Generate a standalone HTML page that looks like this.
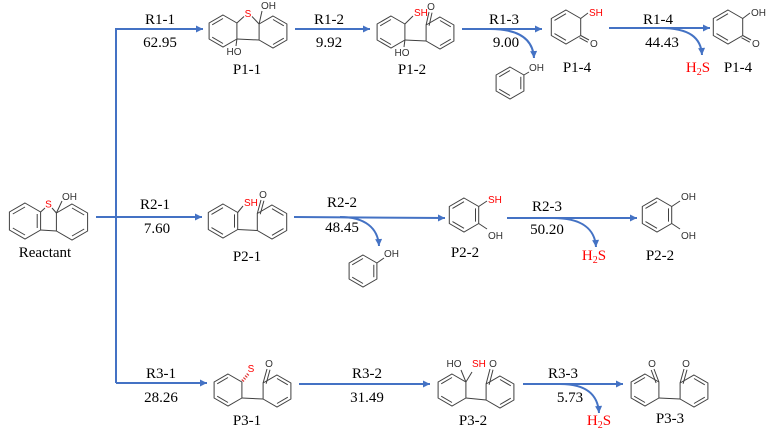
<!DOCTYPE html>
<html><head><meta charset="utf-8">
<style>
html,body{margin:0;padding:0;background:#fff;}
svg{display:block;}
.b{stroke:#4472C4;stroke-width:2;fill:none;}
.m{stroke:#404040;stroke-width:1;fill:none;}
.t{font-family:"Liberation Serif",serif;font-size:15px;fill:#000;text-anchor:middle;}
.a{font-family:"Liberation Sans",sans-serif;font-size:10px;fill:#333;}
.r{fill:#f00;}
</style></head>
<body>
<svg width="769" height="433" viewBox="0 0 769 433" xmlns="http://www.w3.org/2000/svg">
<defs>
<marker id="ah" viewBox="0 0 10 10" refX="10" refY="5" markerWidth="8" markerHeight="7" orient="auto" markerUnits="userSpaceOnUse">
<path d="M0,0 L10,5 L0,10 z" fill="#4472C4"/>
</marker>
</defs>

<!-- ===== Blue arrows ===== -->
<path class="b" d="M116,383 L116,29 L203,29" marker-end="url(#ah)"/>
<path class="b" d="M116,383 L207,383" marker-end="url(#ah)"/>
<path class="b" d="M96,217 L202,217" marker-end="url(#ah)"/>

<path class="b" d="M295,29 L370,29" marker-end="url(#ah)"/>
<path class="b" d="M462,29 L542,29" marker-end="url(#ah)"/>
<path class="b" d="M490,29 C520,29 533,40 534,58" marker-end="url(#ah)"/>
<path class="b" d="M609,28 L710,28" marker-end="url(#ah)"/>
<path class="b" d="M660,28 C690,28 701,38 702,55" marker-end="url(#ah)"/>

<path class="b" d="M294,217 L445,218" marker-end="url(#ah)"/>
<path class="b" d="M340,217 C365,217 378,228 379,246" marker-end="url(#ah)"/>
<path class="b" d="M507,218 L637,218" marker-end="url(#ah)"/>
<path class="b" d="M553,218 C583,218 595,230 596,247" marker-end="url(#ah)"/>

<path class="b" d="M299,384 L430,384" marker-end="url(#ah)"/>
<path class="b" d="M523,384 L623,384" marker-end="url(#ah)"/>
<path class="b" d="M560,384 C588,384 598,396 599,413" marker-end="url(#ah)"/>

<!-- ===== Reaction labels ===== -->
<text class="t" x="160" y="24">R1-1</text><text class="t" x="160" y="47">62.95</text>
<text class="t" x="329" y="24">R1-2</text><text class="t" x="329" y="47">9.92</text>
<text class="t" x="504" y="24">R1-3</text><text class="t" x="506" y="47">9.00</text>
<text class="t" x="658" y="24">R1-4</text><text class="t" x="662" y="47">44.43</text>

<text class="t" x="155" y="209">R2-1</text><text class="t" x="157" y="233">7.60</text>
<text class="t" x="342" y="207">R2-2</text><text class="t" x="342" y="232">48.45</text>
<text class="t" x="547" y="211">R2-3</text><text class="t" x="547" y="234">50.20</text>

<text class="t" x="161" y="378">R3-1</text><text class="t" x="161" y="402">28.26</text>
<text class="t" x="367" y="378">R3-2</text><text class="t" x="367" y="402">31.49</text>
<text class="t" x="563" y="378">R3-3</text><text class="t" x="570" y="402">5.73</text>

<!-- ===== Product labels ===== -->
<text class="t" x="247" y="74">P1-1</text>
<text class="t" x="412" y="74">P1-2</text>
<text class="t" x="577" y="72">P1-4</text>
<text class="t r" x="698" y="72">H<tspan font-size="10" dy="3">2</tspan><tspan dy="-3">S</tspan></text>
<text class="t" x="738" y="72">P1-4</text>

<text class="t" x="45" y="257">Reactant</text>
<text class="t" x="247" y="261">P2-1</text>
<text class="t" x="465" y="257">P2-2</text>
<text class="t r" x="594" y="260">H<tspan font-size="10" dy="3">2</tspan><tspan dy="-3">S</tspan></text>
<text class="t" x="660" y="260">P2-2</text>

<text class="t" x="247" y="425">P3-1</text>
<text class="t" x="473" y="425">P3-2</text>
<text class="t r" x="599" y="425">H<tspan font-size="10" dy="3">2</tspan><tspan dy="-3">S</tspan></text>
<text class="t" x="670" y="423">P3-3</text>

<!-- ===== Reactant ===== -->
<g class="m" transform="translate(25,221)">
<polygon points="0,-18 15.6,-9 15.6,9 0,18 -15.6,9 -15.6,-9"/>
<line x1="-12.2" y1="-7" x2="0" y2="-14"/><line x1="12.2" y1="-7" x2="12.2" y2="7"/><line x1="0" y1="14" x2="-12.2" y2="7"/>
</g>
<g class="m" transform="translate(72,222)">
<polygon points="0,-18 15.6,-9 15.6,9 0,18 -15.6,9 -15.6,-9"/>
<line x1="0" y1="-14" x2="12.2" y2="-7"/><line x1="12.2" y1="7" x2="0" y2="14"/>
</g>
<g class="m">
<line x1="40.6" y1="212" x2="45" y2="208"/><line x1="52" y1="208" x2="56.4" y2="213"/>
<line x1="40.6" y1="230" x2="56.4" y2="231"/>
<line x1="56.4" y1="213" x2="62" y2="201"/>
</g>
<text class="a r" x="48.5" y="207.5" text-anchor="middle">S</text>
<text class="a" x="62" y="200">OH</text>

<!-- ===== P1-1 ===== -->
<g class="m" transform="translate(223,31)">
<polygon points="0,-16 13.9,-8 13.9,8 0,16 -13.9,8 -13.9,-8"/>
<line x1="-10.8" y1="-6.2" x2="0" y2="-12.5"/><line x1="-10.8" y1="6.2" x2="0" y2="12.5"/>
</g>
<g class="m" transform="translate(273,32)">
<polygon points="0,-16 13.9,-8 13.9,8 0,16 -13.9,8 -13.9,-8"/>
<line x1="0" y1="-12.5" x2="10.8" y2="-6.2"/><line x1="10.8" y1="6.2" x2="0" y2="12.5"/>
</g>
<g class="m">
<line x1="236.9" y1="23" x2="244" y2="16.5"/><line x1="252" y1="16.5" x2="259.1" y2="24"/>
<line x1="236.9" y1="39" x2="259.1" y2="40"/>
<line x1="259.1" y1="24" x2="262" y2="11"/>
<line x1="236.9" y1="39" x2="236" y2="46"/>
</g>
<text class="a r" x="248" y="17" text-anchor="middle">S</text>
<text class="a" x="261" y="9">OH</text>
<text class="a" x="234" y="55" text-anchor="middle">HO</text>

<!-- ===== P1-2 ===== -->
<g class="m" transform="translate(391,32)">
<polygon points="0,-16 13.9,-8 13.9,8 0,16 -13.9,8 -13.9,-8"/>
<line x1="-10.8" y1="-6.2" x2="0" y2="-12.5"/><line x1="-10.8" y1="6.2" x2="0" y2="12.5"/>
</g>
<g class="m" transform="translate(440,33)">
<polygon points="0,-16 13.9,-8 13.9,8 0,16 -13.9,8 -13.9,-8"/>
<line x1="0" y1="-12.5" x2="10.8" y2="-6.2"/><line x1="10.8" y1="6.2" x2="0" y2="12.5"/>
</g>
<g class="m">
<line x1="404.9" y1="40" x2="426.1" y2="41"/>
<line x1="404.9" y1="24" x2="413" y2="16"/>
<line x1="426.1" y1="25" x2="429" y2="12"/><line x1="429.1" y1="25.7" x2="432" y2="12.7"/>
<line x1="404.9" y1="40" x2="404" y2="47"/>
</g>
<text class="a r" x="414" y="16">SH</text>
<text class="a" x="431" y="10" text-anchor="middle">O</text>
<text class="a" x="402" y="56" text-anchor="middle">HO</text>

<!-- ===== Phenol (top) ===== -->
<g class="m" transform="translate(510,83)">
<polygon points="0,-16 13.9,-8 13.9,8 0,16 -13.9,8 -13.9,-8"/>
<line x1="-10.8" y1="-6.2" x2="0" y2="-12.5"/><line x1="10.8" y1="-6.2" x2="10.8" y2="6.2"/><line x1="0" y1="12.5" x2="-10.8" y2="6.2"/>
</g>
<line class="m" x1="523.9" y1="75" x2="529" y2="72"/>
<text class="a" x="529" y="71">OH</text>

<!-- ===== P1-4 (left) ===== -->
<g class="m" transform="translate(566,27)">
<polygon points="0,-17 14.7,-8.5 14.7,8.5 0,17 -14.7,8.5 -14.7,-8.5"/>
<line x1="-11.5" y1="-6.6" x2="0" y2="-13.3"/><line x1="-11.5" y1="6.6" x2="0" y2="13.3"/>
</g>
<g class="m">
<line x1="580.7" y1="18.5" x2="588" y2="13"/>
<line x1="580.7" y1="35.5" x2="589" y2="40"/><line x1="579.5" y1="37.7" x2="587.8" y2="42.2"/>
</g>
<text class="a r" x="589" y="16">SH</text>
<text class="a" x="590" y="47">O</text>

<!-- ===== P1-4 (right) ===== -->
<g class="m" transform="translate(728,27)">
<polygon points="0,-17 14.7,-8.5 14.7,8.5 0,17 -14.7,8.5 -14.7,-8.5"/>
<line x1="-11.5" y1="-6.6" x2="0" y2="-13.3"/><line x1="-11.5" y1="6.6" x2="0" y2="13.3"/>
</g>
<g class="m">
<line x1="742.7" y1="18.5" x2="750" y2="13"/>
<line x1="742.7" y1="35.5" x2="751" y2="40"/><line x1="741.5" y1="37.7" x2="749.8" y2="42.2"/>
</g>
<text class="a" x="751" y="16">OH</text>
<text class="a" x="752" y="47">O</text>

<!-- ===== P2-1 ===== -->
<g class="m" transform="translate(223,221)">
<polygon points="0,-17 14.7,-8.5 14.7,8.5 0,17 -14.7,8.5 -14.7,-8.5"/>
<line x1="-11.5" y1="-6.6" x2="0" y2="-13.3"/><line x1="11.5" y1="-6.6" x2="11.5" y2="6.6"/><line x1="0" y1="13.3" x2="-11.5" y2="6.6"/>
</g>
<g class="m" transform="translate(272,222)">
<polygon points="0,-17 14.7,-8.5 14.7,8.5 0,17 -14.7,8.5 -14.7,-8.5"/>
<line x1="0" y1="-13.3" x2="11.5" y2="-6.6"/><line x1="11.5" y1="6.6" x2="0" y2="13.3"/>
</g>
<g class="m">
<line x1="237.7" y1="229.5" x2="257.3" y2="230.5"/>
<line x1="237.7" y1="212.5" x2="243" y2="206"/>
<line x1="257.3" y1="213.5" x2="261" y2="200"/><line x1="260.2" y1="214.3" x2="263.9" y2="200.8"/>
</g>
<text class="a r" x="244" y="206">SH</text>
<text class="a" x="263" y="198" text-anchor="middle">O</text>

<!-- ===== Phenol (middle) ===== -->
<g class="m" transform="translate(363,271)">
<polygon points="0,-16 13.9,-8 13.9,8 0,16 -13.9,8 -13.9,-8"/>
<line x1="-10.8" y1="-6.2" x2="0" y2="-12.5"/><line x1="10.8" y1="-6.2" x2="10.8" y2="6.2"/><line x1="0" y1="12.5" x2="-10.8" y2="6.2"/>
</g>
<line class="m" x1="376.9" y1="263" x2="384" y2="258"/>
<text class="a" x="384" y="257">OH</text>

<!-- ===== P2-2 (middle) ===== -->
<g class="m" transform="translate(464,215)">
<polygon points="0,-17 14.7,-8.5 14.7,8.5 0,17 -14.7,8.5 -14.7,-8.5"/>
<line x1="-11.5" y1="-6.6" x2="0" y2="-13.3"/><line x1="11.5" y1="-6.6" x2="11.5" y2="6.6"/><line x1="0" y1="13.3" x2="-11.5" y2="6.6"/>
</g>
<g class="m">
<line x1="478.7" y1="206.5" x2="487" y2="201"/>
<line x1="478.7" y1="223.5" x2="487" y2="229"/>
</g>
<text class="a r" x="488" y="203">SH</text>
<text class="a" x="488" y="239">OH</text>

<!-- ===== P2-2 (right) ===== -->
<g class="m" transform="translate(657,215)">
<polygon points="0,-17 14.7,-8.5 14.7,8.5 0,17 -14.7,8.5 -14.7,-8.5"/>
<line x1="-11.5" y1="-6.6" x2="0" y2="-13.3"/><line x1="11.5" y1="-6.6" x2="11.5" y2="6.6"/><line x1="0" y1="13.3" x2="-11.5" y2="6.6"/>
</g>
<g class="m">
<line x1="671.7" y1="206.5" x2="680" y2="201"/>
<line x1="671.7" y1="223.5" x2="680" y2="229"/>
</g>
<text class="a" x="681" y="200">OH</text>
<text class="a" x="681" y="239">OH</text>

<!-- ===== P3-1 ===== -->
<g class="m" transform="translate(228,390)">
<polygon points="0,-16 13.9,-8 13.9,8 0,16 -13.9,8 -13.9,-8"/>
<line x1="-10.8" y1="-6.2" x2="0" y2="-12.5"/><line x1="-10.8" y1="6.2" x2="0" y2="12.5"/>
</g>
<g class="m" transform="translate(277,391)">
<polygon points="0,-16 13.9,-8 13.9,8 0,16 -13.9,8 -13.9,-8"/>
<line x1="0" y1="-12.5" x2="10.8" y2="-6.2"/><line x1="10.8" y1="6.2" x2="0" y2="12.5"/>
</g>
<g class="m">
<line x1="241.9" y1="398" x2="263.1" y2="399"/>
<line x1="263.1" y1="383" x2="267" y2="369"/><line x1="266.1" y1="383.8" x2="270" y2="369.8"/>
</g>
<line x1="242.5" y1="381" x2="249" y2="373" stroke="#e03030" stroke-width="3" stroke-dasharray="1.2,1.4"/>
<text class="a r" x="251" y="372" text-anchor="middle">S</text>
<text class="a" x="269" y="367" text-anchor="middle">O</text>

<!-- ===== P3-2 ===== -->
<g class="m" transform="translate(452,390)">
<polygon points="0,-16 13.9,-8 13.9,8 0,16 -13.9,8 -13.9,-8"/>
<line x1="-10.8" y1="-6.2" x2="0" y2="-12.5"/><line x1="-10.8" y1="6.2" x2="0" y2="12.5"/>
</g>
<g class="m" transform="translate(500,392)">
<polygon points="0,-16 13.9,-8 13.9,8 0,16 -13.9,8 -13.9,-8"/>
<line x1="0" y1="-12.5" x2="10.8" y2="-6.2"/><line x1="10.8" y1="6.2" x2="0" y2="12.5"/>
</g>
<g class="m">
<line x1="465.9" y1="398" x2="486.1" y2="400"/>
<line x1="465.9" y1="382" x2="461" y2="370"/>
<line x1="465.9" y1="382" x2="472" y2="372"/>
<line x1="486.1" y1="384" x2="490" y2="369"/><line x1="489.1" y1="384.8" x2="493" y2="369.8"/>
</g>
<text class="a" x="454" y="367" text-anchor="middle">HO</text>
<text class="a r" x="472" y="367">SH</text>
<text class="a" x="493" y="367" text-anchor="middle">O</text>

<!-- ===== P3-3 ===== -->
<g class="m" transform="translate(645,390)">
<polygon points="0,-16 13.9,-8 13.9,8 0,16 -13.9,8 -13.9,-8"/>
<line x1="-10.8" y1="-6.2" x2="0" y2="-12.5"/><line x1="-10.8" y1="6.2" x2="0" y2="12.5"/>
</g>
<g class="m" transform="translate(694,391)">
<polygon points="0,-16 13.9,-8 13.9,8 0,16 -13.9,8 -13.9,-8"/>
<line x1="0" y1="-12.5" x2="10.8" y2="-6.2"/><line x1="10.8" y1="6.2" x2="0" y2="12.5"/>
</g>
<g class="m">
<line x1="658.9" y1="398" x2="680.1" y2="399"/>
<line x1="658.9" y1="382" x2="654" y2="369"/><line x1="656.1" y1="383" x2="651.2" y2="370"/>
<line x1="680.1" y1="383" x2="684" y2="369"/><line x1="683.1" y1="383.8" x2="687" y2="369.8"/>
</g>
<text class="a" x="652" y="367" text-anchor="middle">O</text>
<text class="a" x="686" y="367" text-anchor="middle">O</text>
</svg>
</body></html>
